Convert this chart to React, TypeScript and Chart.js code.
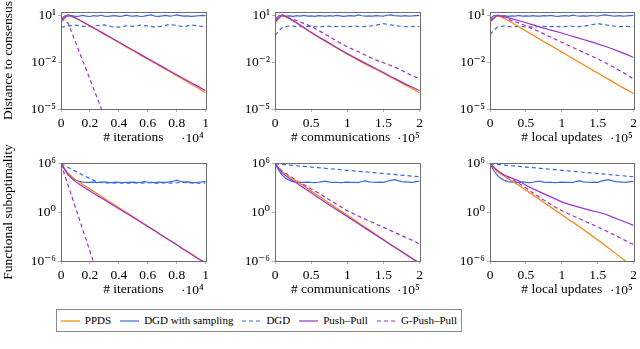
import React, { useEffect, useRef } from "react";
import { Chart, registerables } from "chart.js";

Chart.register(...registerables);

// ---------- data (log10 of the plotted values) ----------
const X_ITER = [0, 0.05, 0.1, 0.15, 0.2, 0.25, 0.3, 0.35, 0.4, 0.45, 0.5, 0.55, 0.6, 0.65, 0.7, 0.75, 0.8, 0.85, 0.9, 0.95, 1];
const X_ITER_FINE = [0, 0.025, 0.05, 0.075, 0.1, 0.125, 0.15, 0.175, 0.2, 0.225, 0.25, 0.275, 0.3, 0.325, 0.35, 0.375, 0.4, 0.425, 0.45, 0.475, 0.5, 0.525, 0.55, 0.575, 0.6, 0.625, 0.65, 0.675, 0.7, 0.725, 0.75, 0.775, 0.8, 0.825, 0.85, 0.875, 0.9, 0.925, 0.95, 0.975, 1];
const X_COMM = [0, 0.1, 0.2, 0.3, 0.4, 0.5, 0.6, 0.7, 0.8, 0.9, 1, 1.1, 1.2, 1.3, 1.4, 1.5, 1.6, 1.7, 1.8, 1.9, 2];
const X_COMM_FINE = [0, 0.05, 0.1, 0.15, 0.2, 0.25, 0.3, 0.35, 0.4, 0.45, 0.5, 0.55, 0.6, 0.65, 0.7, 0.75, 0.8, 0.85, 0.9, 0.95, 1, 1.05, 1.1, 1.15, 1.2, 1.25, 1.3, 1.35, 1.4, 1.45, 1.5, 1.55, 1.6, 1.65, 1.7, 1.75, 1.8, 1.85, 1.9, 1.95, 2];

const SERIES_LABELS = ["PPDS", "DGD with sampling", "DGD", "Push–Pull", "G-Push–Pull"];
const SERIES_COLORS = ["#ff8000", "#3b68e2", "#3b68e2", "#9b30d6", "#9b30d6"];
const SERIES_DASHED = [false, false, true, false, true];

// Distance to consensus vs iterations (x 10^4)
const CONS_ITER_PPDS = [0.6, 1.05, 0.85, 0.6, 0.33, 0.07, -0.2, -0.46, -0.72, -1.0, -1.25, -1.53, -1.8, -2.05, -2.32, -2.58, -2.86, -3.12, -3.4, -3.66, -3.95];
const CONS_ITER_DGDS = [0.8, 1.0, 0.98, 1.02, 0.97, 0.99, 1.03, 0.98, 0.96, 1.01, 0.99, 1.04, 0.98, 0.97, 1.0, 1.02, 0.97, 0.99, 1.05, 1.0, 0.98, 1.02, 0.96, 0.99, 1.03, 1.06, 0.99, 0.97, 1.0, 1.03, 0.98, 1.01, 1.06, 1.02, 0.98, 1.0, 0.97, 0.99, 1.01, 1.03, 1.02];
const CONS_ITER_DGD = [0.25, 0.35, 0.4, 0.33, 0.3, 0.38, 0.42, 0.3, 0.28, 0.36, 0.32, 0.4, 0.35, 0.28, 0.33, 0.45, 0.38, 0.3, 0.42, 0.35, 0.3];
const CONS_ITER_PP = [0.7, 1.08, 0.88, 0.62, 0.36, 0.1, -0.16, -0.42, -0.68, -0.96, -1.22, -1.48, -1.75, -2.01, -2.27, -2.53, -2.79, -3.05, -3.31, -3.56, -3.82];
const CONS_ITER_GPP = [0.85, 0.52, -0.68, -1.88, -3.08, -4.28, -5.48];

// Distance to consensus vs communications (x 10^5)
const CONS_COMM_PPDS = [0.55, 1.05, 0.82, 0.52, 0.22, -0.08, -0.38, -0.65, -0.93, -1.2, -1.47, -1.73, -1.98, -2.22, -2.46, -2.7, -2.95, -3.2, -3.45, -3.7, -3.97];
const CONS_COMM_DGDS = [0.8, 1.0, 1.02, 0.98, 1.0, 0.97, 1.01, 0.99, 1.03, 0.98, 1.0, 0.97, 1.02, 1.0, 0.98, 1.01, 0.99, 1.03, 1.0, 0.97, 1.0, 1.02, 0.98, 1.06, 1.01, 0.99, 1.0, 0.98, 1.02, 1.0, 0.99, 1.04, 1.07, 1.02, 1.0, 0.98, 1.01, 0.99, 1.0, 1.02, 1.03];
const CONS_COMM_DGD = [-0.25, 0.25, 0.35, 0.32, 0.3, 0.33, 0.28, 0.35, 0.3, 0.32, 0.3, 0.34, 0.3, 0.33, 0.4, 0.5, 0.42, 0.35, 0.3, 0.32, 0.3];
const CONS_COMM_PP = [0.65, 1.08, 0.85, 0.55, 0.25, -0.05, -0.34, -0.61, -0.89, -1.16, -1.42, -1.68, -1.93, -2.17, -2.41, -2.65, -2.9, -3.14, -3.38, -3.6, -3.82];
const CONS_COMM_GPP = [0.7, 1.02, 0.85, 0.7, 0.52, 0.32, 0.07, -0.2, -0.47, -0.74, -1.0, -1.2, -1.42, -1.64, -1.85, -2.02, -2.2, -2.4, -2.62, -2.85, -3.05];

// Distance to consensus vs local updates (x 10^5)
const CONS_LOC_PPDS = [0.6, 1.02, 0.85, 0.58, 0.3, 0.02, -0.25, -0.52, -0.8, -1.06, -1.33, -1.6, -1.88, -2.15, -2.42, -2.68, -2.95, -3.22, -3.5, -3.75, -4.02];
const CONS_LOC_DGDS = [0.8, 1.01, 1.0, 0.98, 1.02, 0.97, 1.0, 0.99, 1.03, 0.98, 1.0, 0.98, 1.02, 0.99, 0.98, 1.01, 1.0, 1.03, 0.99, 0.97, 1.0, 1.02, 0.98, 1.05, 1.01, 0.99, 1.0, 0.98, 1.02, 1.01, 0.99, 1.04, 1.07, 1.03, 1.0, 0.98, 1.01, 0.99, 1.0, 1.02, 1.03];
const CONS_LOC_DGD = [-0.2, 0.28, 0.35, 0.3, 0.32, 0.3, 0.27, 0.34, 0.3, 0.33, 0.29, 0.34, 0.31, 0.33, 0.42, 0.5, 0.43, 0.36, 0.31, 0.32, 0.3];
const CONS_LOC_PP = [0.65, 1.05, 0.95, 0.82, 0.7, 0.56, 0.42, 0.28, 0.14, 0.02, -0.1, -0.25, -0.38, -0.52, -0.66, -0.8, -0.96, -1.12, -1.3, -1.48, -1.68];
const CONS_LOC_GPP = [0.7, 1.02, 0.85, 0.7, 0.55, 0.36, 0.15, -0.05, -0.27, -0.48, -0.7, -0.92, -1.13, -1.35, -1.56, -1.77, -2.0, -2.25, -2.5, -2.78, -3.08];

// Functional suboptimality vs iterations (x 10^4)
const FUNC_ITER_PPDS = [6.0, 4.8, 4.05, 3.45, 2.88, 2.3, 1.72, 1.15, 0.58, 0.02, -0.55, -1.12, -1.7, -2.28, -2.85, -3.42, -4.0, -4.6, -5.18, -5.75, -6.3];
const FUNC_ITER_DGDS = [6.0, 5.3, 4.7, 4.25, 4.0, 3.85, 3.75, 3.72, 3.7, 3.74, 3.68, 3.72, 3.76, 3.7, 3.68, 3.74, 3.72, 3.68, 3.72, 3.7, 3.74, 3.68, 3.72, 3.8, 3.72, 3.7, 3.68, 3.74, 3.72, 3.7, 3.76, 3.85, 3.98, 3.84, 3.74, 3.76, 3.7, 3.68, 3.72, 3.76, 3.8];
const FUNC_ITER_DGD = [6.0, 5.55, 5.1, 4.62, 4.18, 3.75, 3.66, 3.62, 3.65, 3.6, 3.64, 3.62, 3.66, 3.6, 3.64, 3.62, 3.66, 3.7, 3.64, 3.6, 3.65];
const FUNC_ITER_PP = [6.0, 4.6, 3.8, 3.2, 2.65, 2.1, 1.55, 1.0, 0.45, -0.08, -0.62, -1.18, -1.74, -2.3, -2.87, -3.44, -4.0, -4.58, -5.15, -5.72, -6.2];
const FUNC_ITER_GPP = [6.0, 3.3, 0.6, -2.1, -4.8, -7.5];

// Functional suboptimality vs communications (x 10^5)
const FUNC_COMM_PPDS = [6.0, 5.0, 4.4, 3.85, 3.25, 2.65, 2.05, 1.45, 0.85, 0.25, -0.35, -0.95, -1.55, -2.15, -2.75, -3.35, -3.95, -4.55, -5.15, -5.75, -6.35];
const FUNC_COMM_DGDS = [6.0, 5.2, 4.6, 4.2, 3.95, 3.8, 3.75, 3.72, 3.7, 3.75, 3.7, 3.68, 3.72, 3.8, 3.85, 3.75, 3.7, 3.72, 3.68, 3.7, 3.74, 3.7, 3.72, 3.68, 3.82, 3.9, 3.78, 3.72, 3.7, 3.74, 3.72, 3.85, 3.95, 4.05, 3.92, 3.8, 3.78, 3.75, 3.72, 3.8, 3.85];
const FUNC_COMM_DGD = [6.0, 5.92, 5.84, 5.76, 5.68, 5.6, 5.52, 5.44, 5.36, 5.28, 5.2, 5.12, 5.04, 4.96, 4.88, 4.8, 4.72, 4.64, 4.56, 4.48, 4.4];
const FUNC_COMM_PP = [6.0, 4.85, 4.2, 3.62, 3.0, 2.42, 1.82, 1.23, 0.63, 0.05, -0.52, -1.1, -1.68, -2.25, -2.82, -3.4, -3.98, -4.56, -5.12, -5.7, -6.25];
const FUNC_COMM_GPP = [6.0, 5.1, 4.5, 3.9, 3.4, 2.9, 2.4, 1.85, 1.3, 0.75, 0.2, -0.22, -0.64, -1.05, -1.45, -1.85, -2.25, -2.65, -3.05, -3.45, -3.9];

// Functional suboptimality vs local updates (x 10^5)
const FUNC_LOC_PPDS = [6.0, 5.05, 4.45, 3.9, 3.35, 2.75, 2.15, 1.52, 0.92, 0.32, -0.3, -0.9, -1.5, -2.12, -2.75, -3.4, -4.05, -4.72, -5.4, -6.1, -6.8];
const FUNC_LOC_DGDS = [6.0, 5.2, 4.6, 4.2, 3.95, 3.8, 3.74, 3.72, 3.7, 3.76, 3.7, 3.68, 3.72, 3.82, 3.84, 3.75, 3.7, 3.72, 3.68, 3.7, 3.75, 3.7, 3.72, 3.68, 3.84, 3.9, 3.78, 3.72, 3.7, 3.74, 3.72, 3.86, 3.95, 4.05, 3.9, 3.8, 3.78, 3.74, 3.72, 3.8, 3.85];
const FUNC_LOC_DGD = [6.0, 5.92, 5.84, 5.76, 5.68, 5.6, 5.52, 5.44, 5.36, 5.28, 5.2, 5.12, 5.04, 4.96, 4.88, 4.8, 4.72, 4.64, 4.56, 4.48, 4.4];
const FUNC_LOC_PP = [6.0, 5.2, 4.6, 4.25, 3.9, 3.35, 2.9, 2.5, 2.1, 1.7, 1.3, 1.0, 0.75, 0.5, 0.25, 0.05, -0.2, -0.55, -0.9, -1.25, -1.6];
const FUNC_LOC_GPP = [6.0, 5.15, 4.55, 4.1, 3.6, 3.0, 2.4, 1.8, 1.25, 0.7, 0.2, -0.2, -0.6, -1.0, -1.4, -1.8, -2.2, -2.65, -3.1, -3.55, -4.0];

const CONS_Y_TICKS = [1e-5, 1e-2, 1e1];
const FUNC_Y_TICKS = [1e-6, 1e0, 1e6];
// trailing spaces on the middle title nudge it left of the multiplier, as in the original
const X_TITLES = ["# iterations", "# communications    ", "# local updates"];
const X_MULTIPLIERS = ["·10⁴", "·10⁵", "·10⁵"];
const Y_TITLES = ["Distance to consensus", "Functional suboptimality"];

// ---------- styling / layout ----------
const FONT = "'Liberation Serif', 'DejaVu Serif', 'Times New Roman', serif";
const TICK_SIZE = 13.5;
const TITLE_SIZE = 13.5;
const SUP: Record<string, string> = { "0": "⁰", "1": "¹", "2": "²", "3": "³", "4": "⁴", "5": "⁵", "6": "⁶", "7": "⁷", "8": "⁸", "9": "⁹", "-": "⁻" };
const sup = (n: number) => String(n).split("").map((c) => SUP[c] ?? c).join("");

const COLS = [
  { left: 0, w: 212, yW: 61, padR: 5, xMax: 1, step: 0.2, multDx: -2 },
  { left: 212, w: 214, yW: 63, padR: 5, xMax: 2, step: 0.5, multDx: 0 },
  { left: 426, w: 214, yW: 64, padR: 4, xMax: 2, step: 0.5, multDx: -1 },
];
const ROWS = [
  { top: 0, h: 150, padTop: 12, yMin: 1e-5, yMax: Math.pow(10, 1.25), ticks: CONS_Y_TICKS },
  { top: 140, h: 162, padTop: 23, yMin: 1e-6, yMax: Math.pow(10, 6.1), ticks: FUNC_Y_TICKS },
];

type Series = { xs: number[]; ys: number[] };
const PANEL_SERIES: Series[][][] = [
  [
    [
      { xs: X_ITER, ys: CONS_ITER_PPDS }, { xs: X_ITER_FINE, ys: CONS_ITER_DGDS }, { xs: X_ITER, ys: CONS_ITER_DGD },
      { xs: X_ITER, ys: CONS_ITER_PP }, { xs: X_ITER, ys: CONS_ITER_GPP },
    ],
    [
      { xs: X_COMM, ys: CONS_COMM_PPDS }, { xs: X_COMM_FINE, ys: CONS_COMM_DGDS }, { xs: X_COMM, ys: CONS_COMM_DGD },
      { xs: X_COMM, ys: CONS_COMM_PP }, { xs: X_COMM, ys: CONS_COMM_GPP },
    ],
    [
      { xs: X_COMM, ys: CONS_LOC_PPDS }, { xs: X_COMM_FINE, ys: CONS_LOC_DGDS }, { xs: X_COMM, ys: CONS_LOC_DGD },
      { xs: X_COMM, ys: CONS_LOC_PP }, { xs: X_COMM, ys: CONS_LOC_GPP },
    ],
  ],
  [
    [
      { xs: X_ITER, ys: FUNC_ITER_PPDS }, { xs: X_ITER_FINE, ys: FUNC_ITER_DGDS }, { xs: X_ITER, ys: FUNC_ITER_DGD },
      { xs: X_ITER, ys: FUNC_ITER_PP }, { xs: X_ITER, ys: FUNC_ITER_GPP },
    ],
    [
      { xs: X_COMM, ys: FUNC_COMM_PPDS }, { xs: X_COMM_FINE, ys: FUNC_COMM_DGDS }, { xs: X_COMM, ys: FUNC_COMM_DGD },
      { xs: X_COMM, ys: FUNC_COMM_PP }, { xs: X_COMM, ys: FUNC_COMM_GPP },
    ],
    [
      { xs: X_COMM, ys: FUNC_LOC_PPDS }, { xs: X_COMM_FINE, ys: FUNC_LOC_DGDS }, { xs: X_COMM, ys: FUNC_LOC_DGD },
      { xs: X_COMM, ys: FUNC_LOC_PP }, { xs: X_COMM, ys: FUNC_LOC_GPP },
    ],
  ],
];

// draw order: Push–Pull on top, then PPDS, G-Push–Pull, DGD with sampling, DGD
const DRAW_ORDER = [1, 3, 4, 0, 2];

const framePlugin = {
  id: "frame",
  afterDatasetsDraw(chart: any) {
    const { ctx, chartArea: a } = chart;
    ctx.save();
    ctx.strokeStyle = "#6e6e6e";
    ctx.lineWidth = 1;
    const l = Math.round(a.left) + 0.5;
    const t = Math.round(a.top) + 0.5;
    ctx.strokeRect(l, t, Math.round(a.right) - Math.round(a.left), Math.round(a.bottom) - Math.round(a.top));
    ctx.restore();
  },
};

const multPlugin = {
  id: "mult",
  afterDraw(chart: any, _args: any, opts: any) {
    if (!opts || !opts.text) return;
    const { ctx, chartArea: a } = chart;
    ctx.save();
    ctx.font = `${TITLE_SIZE}px ${FONT}`;
    ctx.fillStyle = "#000";
    ctx.textAlign = "right";
    ctx.textBaseline = "middle";
    ctx.fillText(opts.text, a.right + opts.dx, a.bottom + opts.dy);
    ctx.restore();
  },
};

const fmtX = (v: number) => String(Math.round(v * 100) / 100);

function makeConfig(r: number, c: number): any {
  const row = ROWS[r];
  const col = COLS[c];
  const series = PANEL_SERIES[r][c];
  const datasets = series.map((s, i) => ({
    label: SERIES_LABELS[i],
    data: s.ys.map((v, k) => ({ x: s.xs[k], y: Math.pow(10, v) })),
    borderColor: SERIES_COLORS[i],
    backgroundColor: SERIES_COLORS[i],
    borderWidth: 1.2,
    borderDash: SERIES_DASHED[i] ? [4, 3] : [],
    pointRadius: 0,
    tension: 0,
    fill: false,
    order: DRAW_ORDER[i],
  }));
  return {
    type: "line",
    data: { datasets },
    plugins: [framePlugin, multPlugin],
    options: {
      responsive: false,
      animation: false,
      devicePixelRatio: 1,
      events: [],
      layout: { padding: { top: row.padTop, right: col.padR, left: 0, bottom: 0 } },
      plugins: {
        legend: { display: false },
        tooltip: { enabled: false },
        mult: { text: X_MULTIPLIERS[c], dx: col.multDx, dy: 29 },
      },
      scales: {
        x: {
          type: "linear",
          min: 0,
          max: col.xMax,
          afterFit: (s: any) => {
            s.height = 41;
          },
          ticks: {
            stepSize: col.step,
            callback: (v: number) => fmtX(v),
            font: { family: FONT, size: TICK_SIZE },
            color: "#000",
            padding: 3,
            maxRotation: 0,
            autoSkip: false,
          },
          grid: { display: true, drawOnChartArea: false, drawTicks: true, tickLength: 3, color: "#b4b4b4" },
          border: { display: false },
          title: {
            display: true,
            text: X_TITLES[c],
            font: { family: FONT, size: TITLE_SIZE },
            color: "#000",
            padding: { top: 0, bottom: 4 },
          },
        },
        y: {
          type: "logarithmic",
          min: row.yMin,
          max: row.yMax,
          afterBuildTicks: (s: any) => {
            s.ticks = row.ticks.map((v) => ({ value: v }));
          },
          afterFit: (s: any) => {
            s.width = col.yW;
          },
          ticks: {
            callback: (v: number) => "10" + sup(Math.round(Math.log10(v))),
            font: { family: FONT, size: TICK_SIZE },
            color: "#000",
            padding: 2,
            autoSkip: false,
          },
          grid: { display: true, drawOnChartArea: false, drawTicks: true, tickLength: 3, color: "#b4b4b4" },
          border: { display: false },
          title: {
            display: c === 0,
            text: Y_TITLES[r],
            font: { family: FONT, size: TITLE_SIZE },
            color: "#000",
            padding: { top: 0, bottom: 0 },
          },
        },
      },
    },
  };
}

function Panel({ r, c }: { r: number; c: number }) {
  const ref = useRef<HTMLCanvasElement>(null);
  const row = ROWS[r];
  const col = COLS[c];
  useEffect(() => {
    const chart = new Chart(ref.current as HTMLCanvasElement, makeConfig(r, c));
    return () => chart.destroy();
  }, [r, c]);
  return (
    <canvas
      ref={ref}
      width={col.w}
      height={row.h}
      style={{ position: "absolute", left: col.left, top: row.top, width: col.w, height: row.h }}
    />
  );
}

function Legend() {
  return (
    <div
      style={{
        position: "absolute",
        left: 56,
        top: 309,
        width: 406,
        height: 23,
        boxSizing: "border-box",
        border: "1px solid #8a8a8a",
        display: "flex",
        alignItems: "center",
        justifyContent: "center",
        fontFamily: FONT,
        fontSize: 11,
        color: "#000",
        background: "#fff",
      }}
    >
      {SERIES_LABELS.map((label, i) => (
        <div key={label} style={{ display: "flex", alignItems: "center", marginLeft: i ? 9 : 0 }}>
          <svg width={19} height={4} style={{ display: "block" }}>
            <line
              x1={0}
              y1={2}
              x2={19}
              y2={2}
              stroke={SERIES_COLORS[i]}
              strokeWidth={1.2}
              strokeDasharray={SERIES_DASHED[i] ? "4 3" : undefined}
            />
          </svg>
          <span style={{ marginLeft: 5, whiteSpace: "nowrap", lineHeight: "13px" }}>{label}</span>
        </div>
      ))}
    </div>
  );
}

export default function App() {
  return (
    <div style={{ position: "absolute", left: 0, top: 0, width: 640, height: 349, background: "#fff", overflow: "hidden" }}>
      {[0, 1].map((r) => [0, 1, 2].map((c) => <Panel key={`${r}-${c}`} r={r} c={c} />))}
      <Legend />
    </div>
  );
}
